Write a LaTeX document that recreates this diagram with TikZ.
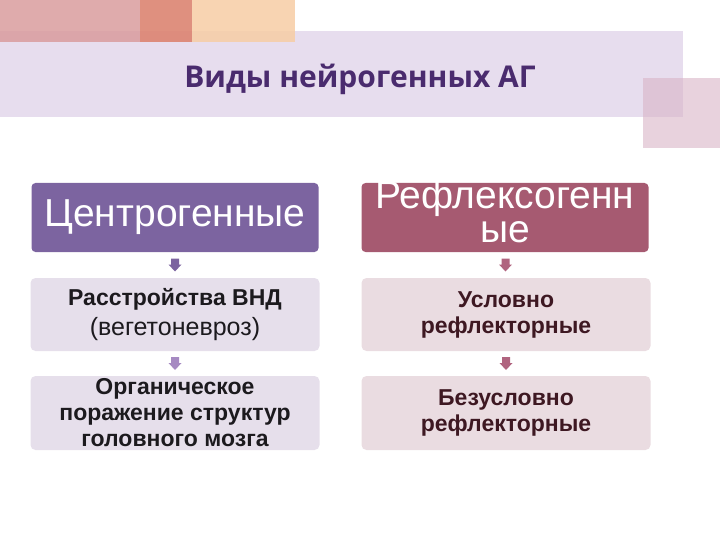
\documentclass[tikz,border=0pt]{standalone}
\usepackage{fontspec}
\setmainfont{Liberation Sans}
\newfontfamily\titlefont{Open Sans}
\usetikzlibrary{positioning}
\definecolor{bandlilac}{HTML}{E7DDEE}
\definecolor{sqpink}{HTML}{D99C9E}
\definecolor{sqsalmon}{HTML}{DC8471}
\definecolor{sqpeach}{HTML}{F7CDA5}
\definecolor{sqrose}{HTML}{D8B4C6}
\definecolor{titleviolet}{HTML}{4A2B6E}
\definecolor{hdpurple}{HTML}{7C64A0}
\definecolor{hdrose}{HTML}{A65A71}
\definecolor{boxlilac}{HTML}{E6DFEB}
\definecolor{boxrose}{HTML}{EADCE1}
\definecolor{txtdark}{HTML}{1C1A1E}
\definecolor{txtmaroon}{HTML}{3E1822}
\definecolor{arrlilac}{HTML}{A68AC2}
\definecolor{arrrose}{HTML}{B0647F}
% small block arrow pointing down, centred on a coordinate
\newcommand{\downmark}[2]{\fill[#2] (#1) ++(-4,-6.5) -- ++(8,0) -- ++(0,6) -- ++(2.5,0) -- ++(-6.5,7) -- ++(-6.5,-7) -- ++(2.5,0) -- cycle;}
\begin{document}
\begin{tikzpicture}[x=1pt, y=-1pt,
    hdbox/.style={rounded corners=4pt, minimum width=287pt, minimum height=69pt, inner sep=0pt,
      text=white, align=center, font=\fontsize{39}{34}\selectfont},
    subbox/.style={rounded corners=5pt, minimum width=289pt, minimum height=73pt, inner sep=0pt,
      align=center, font=\bfseries\fontsize{23}{26}\selectfont}]
\useasboundingbox (0,0) rectangle (720,540);
% title band and corner squares
\fill[bandlilac] (0,31) rectangle (683,117);
\fill[sqpink, opacity=.85] (0,0) rectangle (140,42);
\fill[sqsalmon, opacity=.9] (140,0) rectangle (192,42);
\fill[sqpeach, opacity=.85] (192,0) rectangle (295,42);
\fill[sqrose, opacity=.6] (643,78) rectangle (720,148);
\node[font=\titlefont\bfseries\fontsize{30}{34}\selectfont, text=titleviolet] (title) at (360,79) {Виды нейрогенных АГ};

% left column
\node[hdbox, fill=hdpurple] (cg) at (175,217.5) {Центрогенные};
\node[subbox, fill=boxlilac, text=txtdark] (cg1) at (175,314.5)
  {Расстройства ВНД\\[4pt]{\mdseries\fontsize{25}{28}\selectfont(вегетоневроз)}};
\node[subbox, fill=boxlilac, text=txtdark, minimum height=74pt] (cg2) at (175,413)
  {Органическое\\поражение структур\\головного мозга};

% right column
\node[hdbox, fill=hdrose] (rf) at (505,217.5) {};
\node[text=white, align=center, font=\fontsize{39}{34}\selectfont, anchor=base] (rft) at (505,242)
  {Рефлексогенн\\ые};
\node[subbox, fill=boxrose, text=txtmaroon] (rf1) at (506,314.5) {Условно\\рефлекторные};
\node[subbox, fill=boxrose, text=txtmaroon, minimum height=74pt] (rf2) at (506,413)
  {Безусловно\\рефлекторные};

% arrows between boxes
\path (cg.south) -- (cg1.north) coordinate[midway] (a1);
\path (cg1.south) -- (cg2.north) coordinate[midway] (a2);
\path (rf.south) -- (rf1.north) coordinate[midway] (b1);
\path (rf1.south) -- (rf2.north) coordinate[midway] (b2);
\downmark{a1}{hdpurple}
\downmark{a2}{arrlilac}
\downmark{b1}{arrrose}
\downmark{b2}{arrrose}
\end{tikzpicture}
\end{document}
